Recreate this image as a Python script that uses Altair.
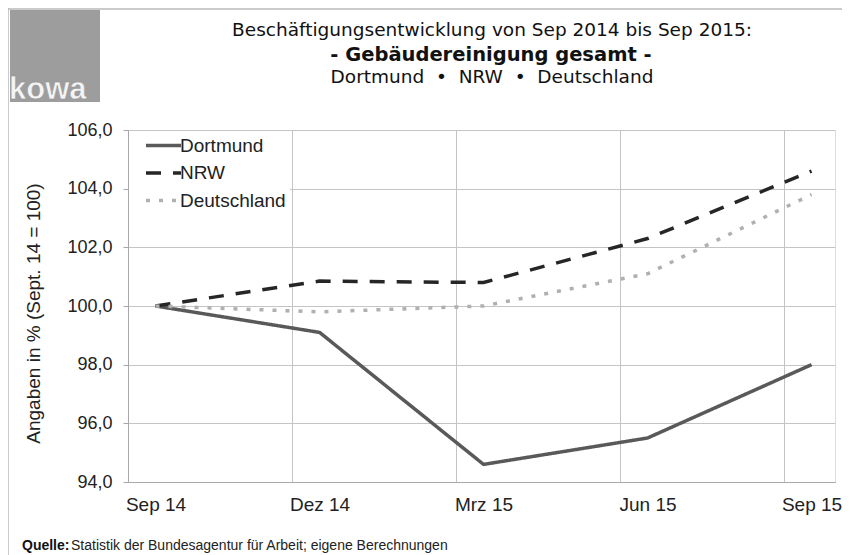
import altair as alt
import pandas as pd

# ---- data ----
categories = ["Sep 14", "Dez 14", "Mrz 15", "Jun 15", "Sep 15"]
series_names = ["Dortmund", "NRW", "Deutschland"]
dortmund = [100.0, 99.1, 94.6, 95.5, 98.0]
nrw = [100.0, 100.85, 100.8, 102.3, 104.6]
deutschland = [100.0, 99.8, 100.0, 101.1, 103.8]
y_ticks = [94, 96, 98, 100, 102, 104, 106]

NB = "\u00a0"
title_line1 = "Beschäftigungsentwicklung von Sep 2014 bis Sep 2015:"
title_line2 = "- Gebäudereinigung gesamt -"
title_line3 = f"Dortmund{NB*2}\u2022{NB*2}NRW{NB*2}\u2022{NB*2}Deutschland"
source_bold = "Quelle:"
source_text = "Statistik der Bundesagentur für Arbeit; eigene Berechnungen"
y_title = "Angaben in % (Sept. 14 = 100)"
logo_text = "kowa"

colors = ["#595959", "#262626", "#b0b0b0"]
dashes = [[1, 0], [15, 12], [4, 9]]

rows = []
for name, vals in zip(series_names, [dortmund, nrw, deutschland]):
    for i, (c, v) in enumerate(zip(categories, vals)):
        rows.append({"Serie": name, "idx": i, "Monat": c, "Wert": v})
df = pd.DataFrame(rows)

W, H = 707, 352
off = 0.168
unit = 164.0
grid_vals = [i - off for i in range(len(categories))]
label_expr = "[" + ",".join(f"'{c}'" for c in categories) + f"][round(datum.value + {off})]"
FONT = "Liberation Sans"
TFONT = "DejaVu Sans"

legend = alt.Legend(
    title=None, orient="none", legendX=1, legendY=1, fillColor="white",
    padding=4, symbolType="M-2,0H2", symbolSize=306, symbolStrokeWidth=3.5,
    symbolOffset=20, labelFontSize=19, labelOffset=6, rowPadding=6.5,
    labelColor="#222", labelFont=FONT,
)

lines = alt.Chart(df).mark_line(strokeWidth=3.5).encode(
    x=alt.X("idx:Q",
            scale=alt.Scale(domain=[-off, -off + W / unit], nice=False, zero=False),
            axis=alt.Axis(values=grid_vals, labelExpr=label_expr, labelOffset=27.5,
                          grid=True, ticks=False, title=None, labelFontSize=19,
                          labelPadding=13, domain=True, domainColor="#a8a8a8",
                          gridColor="#c4c4c4", labelColor="#222", labelFont=FONT,
                          labelFlush=False)),
    y=alt.Y("Wert:Q",
            scale=alt.Scale(domain=[94, 106], nice=False, zero=False),
            axis=alt.Axis(values=y_ticks,
                          labelExpr="replace(format(datum.value, '.1f'), '.', ',')",
                          title=y_title, titleFontSize=19, titleFontWeight="normal",
                          titleColor="#222", titleFont=FONT, titleX=-95, titleY=183,
                          titleAlign="center", titleBaseline="middle", titleAngle=270,
                          labelFontSize=18, labelPadding=11, labelColor="#222",
                          labelFont=FONT, tickSize=5, tickColor="#a8a8a8",
                          domain=True, domainColor="#a8a8a8", gridColor="#c4c4c4")),
    color=alt.Color("Serie:N", scale=alt.Scale(domain=series_names, range=colors),
                    legend=legend),
    strokeDash=alt.StrokeDash("Serie:N", scale=alt.Scale(domain=series_names, range=dashes),
                              legend=legend),
    order=alt.Order("idx:Q"),
)

one = pd.DataFrame({"k": [0]})

def text_layer(txt, x, y, size, weight="normal", align="center", color="#111", font=FONT):
    return alt.Chart(one).mark_text(
        text=txt, fontSize=size, fontWeight=weight, align=align, baseline="middle",
        color=color, font=font,
    ).encode(x=alt.value(x), y=alt.value(y))

t1 = text_layer(title_line1, 364, -100, 18.5, font=TFONT)
t2 = text_layer(title_line2, 363, -75, 19.5, weight="bold", font=TFONT)
t3 = text_layer(title_line3, 364, -53, 18.5, font=TFONT)
s1 = text_layer(source_bold, -106, 416, 14, weight="bold", align="left")
s2 = text_layer(source_text, -57, 416, 14, align="left", color="#222")

logo_box = alt.Chart(one).mark_rect(color="#9d9d9d").encode(
    x=alt.value(-118), x2=alt.value(-28), y=alt.value(-120), y2=alt.value(-28))
logo_txt = alt.Chart(one).mark_text(
    text=logo_text, fontSize=31, fontWeight="bold", align="left", baseline="alphabetic",
    color="#f4f4f4", stroke="#909090", strokeWidth=0.5, font=FONT,
).encode(x=alt.value(-119), y=alt.value(-31))

frame_top = alt.Chart(one).mark_rule(color="#b8b8b8", strokeWidth=1.5).encode(
    x=alt.value(-120), x2=alt.value(W + 7), y=alt.value(-121))
frame_left = alt.Chart(one).mark_rule(color="#b8b8b8", strokeWidth=1.5).encode(
    x=alt.value(-120), y=alt.value(-122), y2=alt.value(H + 75))

chart = alt.layer(
    frame_top, frame_left, logo_box, logo_txt, t1, t2, t3, lines, s1, s2
).properties(
    width=W, height=H,
    autosize=alt.AutoSizeParams(type="none"),
    padding={"left": 120, "top": 122, "right": 7, "bottom": 73},
    background="white",
).configure_view(stroke=None).configure(font=FONT)

chart.save("out.html", embed_options={"renderer": "svg", "actions": False})
